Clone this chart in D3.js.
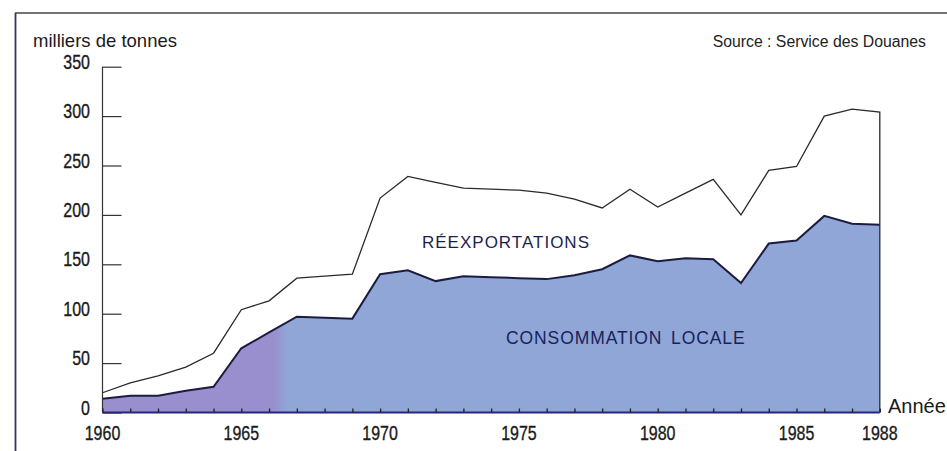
<!DOCTYPE html>
<html><head><meta charset="utf-8">
<script src="https://cdn.jsdelivr.net/npm/d3@7"></script>
<style>
html,body{margin:0;padding:0;background:#fff;}
svg{display:block;}
</style>
</head><body>
<svg id="chart" width="947" height="451"></svg>
<script>
const years = [1960,1961,1962,1963,1964,1965,1966,1967,1968,1969,1970,1971,1972,1973,1974,1975,1976,1977,1978,1979,1980,1981,1982,1983,1984,1985,1986,1987,1988];
const consommationLocale = [14,17,17,22,26,65,81,97,96,95,140,144,133,138,137,136,135,139,145,159,153,156,155,131,171,174,199,191,190];
const total = [20,30,37,46,60,104,113,136,138,140,217,239,233,227,226,225,222,216,207,226,208,222,236,200,245,249,300,307,304];
const yTicks = [0,50,100,150,200,250,300,350];
const xLabels = [1960,1965,1970,1975,1980,1985,1988];

const svg = d3.select("#chart");
const x = d3.scaleLinear().domain([1960,1988]).range([102.5,879.8]);
const y = d3.scaleLinear().domain([0,350]).range([412.5,66.7]);
const FONT = "'Liberation Sans', Arial, sans-serif";
const CONDENSE = 0.78;

// frame
svg.append("line").attr("x1",15).attr("x2",947).attr("y1",13).attr("y2",13)
  .attr("stroke","#444").attr("stroke-width",1.5);
svg.append("line").attr("x1",15.5).attr("x2",15.5).attr("y1",13).attr("y2",451)
  .attr("stroke","#33335e").attr("stroke-width",1.8);

// gradient
const defs = svg.append("defs");
const grad = defs.append("linearGradient").attr("id","fillGrad")
  .attr("gradientUnits","userSpaceOnUse")
  .attr("x1",x(1966.15)).attr("x2",x(1966.65)).attr("y1",0).attr("y2",0);
grad.append("stop").attr("offset","0").attr("stop-color","#998fce");
grad.append("stop").attr("offset","1").attr("stop-color","#8fa6d7");

const data = years.map((yr,i)=>({yr, loc:consommationLocale[i], tot:total[i]}));

// local consumption area
svg.append("path").datum(data)
  .attr("d", d3.area().x(d=>x(d.yr)).y0(y(0)).y1(d=>y(d.loc)))
  .attr("fill","url(#fillGrad)");

// lower line
svg.append("path").datum(data)
  .attr("d", d3.line().x(d=>x(d.yr)).y(d=>y(d.loc)))
  .attr("fill","none").attr("stroke","#1c1c40").attr("stroke-width",2);

// upper line with right closing edge
const last = data[data.length-1];
svg.append("path").datum(data)
  .attr("d", d3.line().x(d=>x(d.yr)).y(d=>y(d.tot))(data) + "L" + x(last.yr) + "," + y(0))
  .attr("fill","none").attr("stroke","#2a2a2a").attr("stroke-width",1.3);

// y axis
const yAxis = d3.axisRight(y).tickValues(yTicks).tickSize(19).tickFormat("");
const gy = svg.append("g").attr("transform",`translate(${x(1960)},0)`).call(yAxis);
gy.select(".domain").attr("d",`M0,${y(350)}V${y(0)}`).attr("stroke","#333").attr("stroke-width",1.2);
gy.selectAll(".tick line").attr("stroke","#333").attr("stroke-width",1.2);

svg.append("g").selectAll("text").data(yTicks).join("text")
  .attr("transform",d=>`translate(90,${y(d)+2}) scale(${CONDENSE},1)`)
  .attr("text-anchor","end")
  .attr("font-family",FONT)
  .attr("font-size",20.5).attr("fill","#1a1a1a")
  .attr("stroke","#1a1a1a").attr("stroke-width",0.35)
  .text(d=>d);

// x axis
const xAxis = d3.axisTop(x).tickValues(years).tickSize(4).tickFormat("");
const gx = svg.append("g").attr("transform",`translate(0,${y(0)})`).call(xAxis);
gx.select(".domain").attr("d",`M${x(1960)},0H${x(1988)}`).attr("stroke","#26267a").attr("stroke-width",2);
gx.selectAll(".tick line").attr("stroke","#222").attr("stroke-width",1.3);

svg.append("g").selectAll("text").data(xLabels).join("text")
  .attr("transform",d=>`translate(${x(d)},440) scale(${CONDENSE},1)`)
  .attr("text-anchor","middle")
  .attr("font-family",FONT)
  .attr("font-size",20.5).attr("fill","#1a1a1a")
  .attr("stroke","#1a1a1a").attr("stroke-width",0.35)
  .text(d=>d);

// titles
svg.append("text").attr("x",33).attr("y",47)
  .attr("font-family",FONT)
  .attr("font-size",18.5).attr("fill","#1a1a1a").text("milliers de tonnes");
svg.append("text").attr("x",926).attr("y",47).attr("text-anchor","end")
  .attr("font-family",FONT)
  .attr("font-size",15.8).attr("fill","#222").text("Source : Service des Douanes");
svg.append("text").attr("x",888).attr("y",413)
  .attr("font-family",FONT)
  .attr("font-size",20).attr("fill","#1a1a1a").text("Année");

// series labels
svg.append("text").attr("x",422).attr("y",248)
  .attr("font-family",FONT)
  .attr("font-size",17).attr("letter-spacing",1).attr("fill","#1e1e4e").text("RÉEXPORTATIONS");
svg.append("text").attr("x",506).attr("y",344)
  .attr("font-family",FONT)
  .attr("font-size",17.5).attr("letter-spacing",0.9).attr("word-spacing",3).attr("fill","#1a1f5c").text("CONSOMMATION LOCALE");
</script>
</body></html>
